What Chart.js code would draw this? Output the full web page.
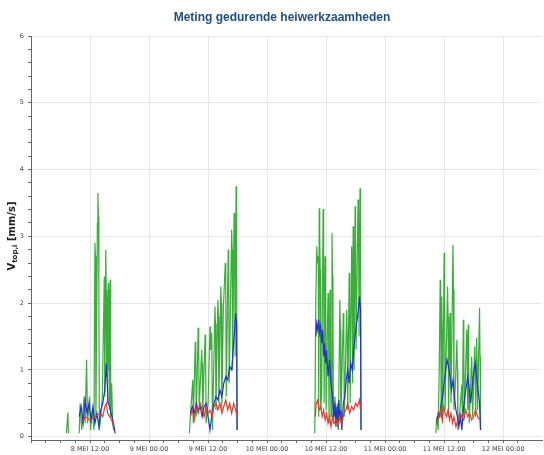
<!DOCTYPE html>
<html>
<head>
<meta charset="utf-8">
<script src="https://cdn.jsdelivr.net/npm/chart.js@4"></script>
<style>
  html, body { margin: 0; padding: 0; background: #fff; }
  #wrap { width: 544px; height: 455px; }
</style>
</head>
<body>
<div id="wrap"><canvas id="meting"></canvas></div>
<script>
// hours since 8 MEI 00:00, null value = gap between working days
var xLabels = ["8 MEI 12:00", "9 MEI 00:00", "9 MEI 12:00", "10 MEI 00:00",
  "10 MEI 12:00", "11 MEI 00:00", "11 MEI 12:00", "12 MEI 00:00"];
var yLabels = [0, 1, 2, 3, 4, 5, 6];

var greenT = [7.2, 7.5, 7.6, 8.5,
  9.8, 10.0, 10.3, 10.8, 11.0, 11.3, 11.5, 11.9, 12.1, 12.5, 12.8, 13.0, 13.1, 13.2, 13.5, 13.6, 13.7, 13.8, 13.9,
  14.2, 14.5, 14.9, 15.0, 15.2, 15.3, 15.4, 15.5, 15.6, 15.7, 15.8, 15.9, 16.0, 16.1, 16.2, 16.4, 16.6, 16.8, 24,
  32.2, 32.4, 32.9, 33.0, 33.4, 33.5, 33.6, 34.0, 34.1, 34.2, 34.7, 34.8, 34.9, 35.4, 35.5, 35.6, 36.0, 36.4, 36.5,
  36.75, 36.9, 37.4, 37.5, 37.6, 38.0, 38.1, 38.2, 38.6, 38.7, 38.8, 39.1, 39.5, 39.6, 39.7, 40.1, 40.2, 40.3, 40.8,
  40.9, 41.0, 41.3, 41.4, 41.5, 41.7, 41.8, 41.9, 50,
  57.7, 57.9, 58.1, 58.2, 58.4, 58.5, 58.6, 58.7, 58.8, 58.9, 59.1, 59.4, 59.5, 59.6, 59.8, 59.9, 60.0, 60.4, 60.5,
  60.6, 60.8, 60.9, 61.0, 61.2, 61.3, 61.4, 61.5, 61.8, 62.0, 62.3, 62.5, 62.8, 62.9, 63.0, 63.5, 63.6, 63.7, 64.2,
  64.3, 64.4, 64.7, 64.8, 64.9, 65.2, 65.3, 65.4, 65.5, 65.6, 65.7, 65.9, 66.0, 66.1, 66.5, 66.6, 66.7, 66.9, 67.0, 67.1, 75,
  82.3, 82.5, 82.8, 83.0, 83.2, 83.3, 83.4, 83.5, 83.6, 83.7, 84.0, 84.1, 84.2, 84.7, 84.8, 84.9, 85.2, 85.3, 85.4,
  85.8, 85.9, 86.0, 86.3, 86.6, 86.7, 86.8, 87.2, 87.6, 87.7, 87.9, 88.0, 88.1, 88.6, 88.7, 88.8, 88.9, 89.0, 89.1,
  89.6, 89.7, 89.8, 90.2, 90.3, 90.4, 90.6, 90.7, 90.8, 91.2, 91.3, 91.4];
var greenV = [0.05, 0.36, 0.05, null,
  0.05, 0.5, 0.1, 0.6, 0.2, 1.15, 0.2, 0.6, 0.1, 0.4, 0.1, 2.9, 2.7, 0.3, 3.2, 3.65, 3.3, 2.3, 0.1,
  0.3, 0.6, 2.4, 0.6, 2.8, 2.2, 0.9, 2.1, 0.5, 2.3, 1.0, 2.2, 0.4, 2.35, 0.3, 0.8, 0.2, 0.1, null,
  0.05, 0.3, 0.85, 0.2, 1.42, 1.2, 0.3, 1.63, 1.3, 0.4, 1.3, 1.1, 0.3, 1.53, 1.2, 0.2, 0.5, 1.65, 1.3,
  1.55, 0.1, 1.95, 1.7, 0.4, 2.05, 1.8, 0.5, 2.25, 2.0, 0.4, 1.9, 2.6, 2.3, 0.6, 2.8, 2.5, 0.8, 3.1,
  2.8, 1.0, 3.35, 3.0, 1.2, 3.75, 3.2, 0.1, null,
  0.05, 2.0, 2.85, 2.6, 2.7, 0.3, 3.42, 3.0, 2.5, 0.4, 0.6, 3.41, 2.9, 0.5, 2.7, 2.2, 0.4, 2.15, 1.8,
  0.2, 2.2, 1.6, 0.3, 3.05, 2.4, 1.75, 0.2, 0.6, 0.3, 0.5, 0.1, 2.05, 1.6, 0.2, 1.85, 1.5, 0.3, 1.9,
  1.5, 0.4, 2.45, 2.1, 0.5, 2.85, 2.5, 0.8, 3.15, 2.7, 1.0, 3.45, 3.0, 1.3, 3.55, 3.2, 1.5, 3.72, 3.3, 0.1, null,
  0.05, 0.3, 0.1, 1.0, 2.35, 1.9, 0.3, 2.1, 1.6, 0.2, 2.75, 2.3, 0.4, 2.25, 1.8, 0.3, 1.85, 1.3, 0.5,
  2.87, 2.2, 0.4, 0.8, 1.45, 1.0, 0.1, 0.4, 0.78, 0.2, 1.75, 1.3, 0.3, 1.6, 1.2, 0.4, 1.68, 1.1, 0.2,
  1.2, 0.9, 0.3, 1.35, 1.0, 0.3, 1.48, 1.1, 0.4, 1.93, 1.2, 0.1];

var blueT = [9.8, 10.2, 10.6, 11.0, 11.4, 11.8, 12.2, 12.6, 13.0, 13.4, 13.8, 14.2, 14.6, 15.0, 15.3, 15.5, 15.7,
  16.0, 16.3, 16.6, 16.9, 17.1, 24,
  32.4, 32.8, 33.2, 33.6, 34.0, 34.4, 34.8, 35.2, 35.6, 36.0, 36.4, 36.8, 37.2, 37.6, 38.0, 38.4, 38.8, 39.2,
  39.6, 40.0, 40.4, 40.8, 41.0, 41.2, 41.4, 41.6, 41.8, 41.9, 50,
  57.9, 58.1, 58.3, 58.5, 58.7, 58.9, 59.1, 59.3, 59.5, 59.7, 59.9, 60.1, 60.4, 60.7, 61.0, 61.3, 61.6, 61.8,
  62.0, 62.2, 62.4, 62.6, 62.8, 63.0, 63.2, 63.5, 63.8, 64.1, 64.4, 64.7, 65.0, 65.3, 65.6, 65.9, 66.2, 66.5,
  66.8, 67.0, 67.1, 75,
  82.5, 82.8, 83.1, 83.4, 83.7, 84.0, 84.3, 84.6, 84.9, 85.2, 85.5, 85.8, 86.1, 86.4, 86.7, 87.0, 87.3, 87.6,
  87.9, 88.2, 88.5, 88.8, 89.1, 89.4, 89.7, 90.0, 90.3, 90.6, 90.9, 91.2, 91.4];
var blueV = [0.3, 0.45, 0.2, 0.55, 0.35, 0.5, 0.25, 0.45, 0.2, 0.35, 0.15, 0.4, 0.5, 0.7, 1.1, 0.8, 0.5,
  0.45, 0.35, 0.25, 0.15, 0.05, null,
  0.35, 0.45, 0.35, 0.5, 0.4, 0.45, 0.3, 0.45, 0.5, 0.3, 0.1, 0.35, 0.5, 0.6, 0.55, 0.7, 0.6, 0.8,
  0.9, 0.85, 1.05, 1.0, 1.2, 1.4, 1.6, 1.85, 1.7, 0.1, null,
  1.5, 1.7, 1.6, 1.75, 1.55, 1.65, 1.4, 1.6, 1.2, 1.4, 1.1, 1.3, 0.9, 1.15, 0.8, 0.6, 0.3, 0.5,
  0.15, 0.45, 0.2, 0.55, 0.25, 0.4, 0.1, 0.5, 0.6, 0.85, 1.0, 0.8, 1.1, 1.0, 1.3, 1.5, 1.7, 1.85,
  2.1, 1.9, 0.1, null,
  0.2, 0.35, 0.3, 0.5, 0.6, 0.8, 1.0, 1.15, 1.05, 0.9, 0.7, 0.85, 0.6, 0.4, 0.3, 0.15, 0.3, 0.1,
  0.4, 0.6, 0.75, 0.9, 0.7, 0.5, 0.75, 0.95, 1.1, 0.9, 0.7, 0.5, 0.1];

var redT = [10.5, 11.0, 12.0, 13.0, 14.0, 14.6, 15.0, 15.3, 15.6, 16.0, 16.4, 16.8, 24,
  32.4, 32.8, 33.2, 33.6, 34.0, 34.4, 34.8, 35.2, 35.6, 36.0, 36.4, 36.8, 37.2, 37.6, 38.0, 38.4, 38.8, 39.2,
  39.6, 40.0, 40.4, 40.8, 41.2, 41.6, 41.9, 50,
  57.8, 58.0, 58.3, 58.6, 58.9, 59.2, 59.5, 59.8, 60.1, 60.4, 60.7, 61.0, 61.3, 61.6, 62.0, 62.4, 62.8, 63.2,
  63.6, 64.0, 64.4, 64.8, 65.2, 65.6, 66.0, 66.4, 66.8, 67.0, 75,
  82.5, 82.9, 83.3, 83.6, 83.9, 84.2, 84.5, 84.8, 85.1, 85.4, 85.7, 86.0, 86.4, 86.8, 87.2, 87.6, 88.0, 88.4,
  88.8, 89.2, 89.6, 90.0, 90.4, 90.8, 91.2];
var redV = [0.2, 0.3, 0.25, 0.3, 0.35, 0.3, 0.45, 0.5, 0.35, 0.3, 0.25, 0.15, null,
  0.3, 0.4, 0.25, 0.45, 0.35, 0.5, 0.4, 0.3, 0.45, 0.35, 0.4, 0.3, 0.45, 0.5, 0.4, 0.5, 0.35, 0.45,
  0.55, 0.4, 0.5, 0.35, 0.5, 0.4, 0.3, null,
  0.3, 0.5, 0.55, 0.4, 0.45, 0.3, 0.4, 0.25, 0.35, 0.2, 0.3, 0.15, 0.3, 0.2, 0.25, 0.15, 0.3, 0.2,
  0.35, 0.4, 0.5, 0.35, 0.45, 0.4, 0.5, 0.45, 0.55, 0.4, null,
  0.2, 0.3, 0.4, 0.25, 0.45, 0.35, 0.3, 0.4, 0.25, 0.35, 0.2, 0.3, 0.15, 0.25, 0.35, 0.3, 0.25, 0.4,
  0.3, 0.35, 0.25, 0.3, 0.4, 0.3, 0.25];

function pts(t, v) {
  return t.map(function (x, i) { return { x: x, y: v[i] }; });
}

// title and y-axis title with subscript drawn by hand
var textPlugin = {
  id: "texts",
  afterDraw: function (chart) {
    var c = chart.ctx;
    c.save();
    c.fillStyle = "#1f4f82";
    c.font = "bold 12px 'Liberation Sans', Arial, sans-serif";
    c.textAlign = "center";
    c.textBaseline = "middle";
    c.fillText("Meting gedurende heiwerkzaamheden", 282, 18);

    c.translate(12, 236);
    c.rotate(-Math.PI / 2);
    c.fillStyle = "#222";
    c.textAlign = "left";
    c.textBaseline = "alphabetic";
    var big = "bold 10px 'DejaVu Sans', sans-serif";
    var small = "bold 7px 'DejaVu Sans', sans-serif";
    c.font = big; var w1 = c.measureText("V").width;
    c.font = small; var w2 = c.measureText("top,i").width;
    c.font = big; var w3 = c.measureText(" [mm/s]").width;
    var x0 = -(w1 + w2 + w3) / 2;
    c.font = big; c.fillText("V", x0, 3);
    c.font = small; c.fillText("top,i", x0 + w1, 5);
    c.font = big; c.fillText(" [mm/s]", x0 + w1 + w2, 3);
    c.restore();
  }
};

var ctx = document.getElementById("meting");
var myChart = new Chart(ctx, {
  type: "line",
  data: {
    datasets: [
      { data: pts(redT, redV), borderColor: "#e33a2f", order: 0 },
      { data: pts(blueT, blueV), borderColor: "#2233c8", order: 1 },
      { data: pts(greenT, greenV), borderColor: "#3aad3a", order: 2 }
    ]
  },
  options: {
    responsive: true,
    maintainAspectRatio: false,
    animation: false,
    spanGaps: false,
    layout: { padding: { top: 36, right: 2, left: 0, bottom: 0 } },
    elements: {
      point: { radius: 0 },
      line: { borderWidth: 1.2, tension: 0 }
    },
    plugins: {
      legend: { display: false },
      title: { display: false },
      tooltip: { enabled: false }
    },
    scales: {
      x: {
        type: "linear",
        min: 0,
        max: 103.9,
        afterBuildTicks: function (axis) {
          var t = [];
          for (var h = 0; h <= 99; h += 3) t.push({ value: h });
          axis.ticks = t;
        },
        afterFit: function (scale) { scale.height = 15; },
        border: { color: "#666" },
        grid: {
          color: function (c) { return c.tick && c.tick.value % 12 === 0 ? "#e6e6e6" : "rgba(0,0,0,0)"; },
          tickColor: "#666",
          tickLength: 3
        },
        ticks: {
          autoSkip: false,
          maxRotation: 0,
          padding: 2,
          color: "#444",
          font: { family: "'DejaVu Sans'", size: 6.5 },
          callback: function (v) {
            if (v > 0 && v % 12 === 0) return xLabels[v / 12 - 1];
            return "";
          }
        }
      },
      y: {
        min: -0.05,
        max: 6,
        afterBuildTicks: function (axis) {
          var t = [];
          for (var i = 0; i <= 30; i++) t.push({ value: i / 5 });
          axis.ticks = t;
        },
        afterFit: function (scale) { scale.width = 31; },
        border: { color: "#666" },
        grid: {
          color: function (c) {
            return c.tick && yLabels.indexOf(Math.round(c.tick.value * 100) / 100) >= 0 ? "#e6e6e6" : "rgba(0,0,0,0)";
          },
          tickColor: "#666",
          tickLength: 3
        },
        ticks: {
          autoSkip: false,
          padding: 4,
          color: "#444",
          font: { family: "'DejaVu Sans'", size: 6.5 },
          callback: function (v) {
            var r = Math.round(v * 100) / 100;
            return yLabels.indexOf(r) >= 0 ? String(r) : "";
          }
        }
      }
    }
  },
  plugins: [textPlugin]
});
</script>
</body>
</html>
